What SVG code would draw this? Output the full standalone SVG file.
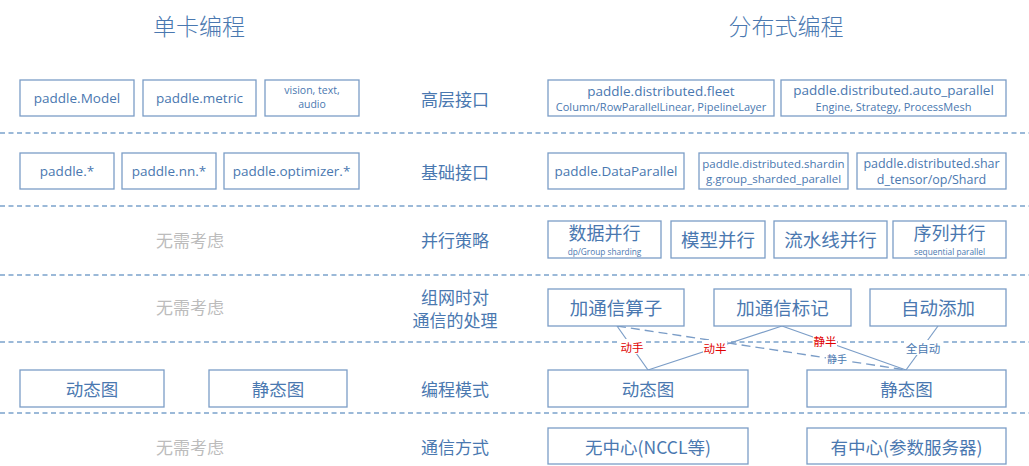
<svg xmlns="http://www.w3.org/2000/svg" width="1029" height="466" viewBox="0 0 1029 466">
<style>
text{font-family:"Open Sans","Noto Sans CJK SC",sans-serif;fill:#4a78b0;text-anchor:middle;dominant-baseline:central}
.cjk{font-family:"Noto Sans CJK SC",sans-serif}
.box{fill:#fff;stroke:#7b9dc7;stroke-width:1.3}
.sep{stroke:#7ba3cc;stroke-width:1.5;stroke-dasharray:5 3.5}
.gray{fill:#bcbcbc}
.red{fill:#e00000}
.con{stroke:#7b9dc7;stroke-width:1.2;fill:none}
.dash{stroke-dasharray:9 5;stroke-width:1.4}
</style>
<rect width="1029" height="466" fill="#fff"/>
<g id="separators">
<line class="sep" x1="0" y1="133" x2="1029" y2="133"/>
<line class="sep" x1="0" y1="206" x2="1029" y2="206"/>
<line class="sep" x1="0" y1="275" x2="1029" y2="275"/>
<line class="sep" x1="0" y1="342" x2="1029" y2="342"/>
<line class="sep" x1="0" y1="413" x2="1029" y2="413"/>
</g>
<g id="titles">
<text class="cjk" x="199" y="25" font-size="23" font-weight="300" fill="#5a8ac2">单卡编程</text>
<text class="cjk" x="786" y="25" font-size="23" font-weight="300" fill="#5a8ac2">分布式编程</text>
</g>
<g id="layer-labels" class="cjk" font-size="17">
<text class="cjk" x="455" y="98">高层接口</text>
<text class="cjk" x="455" y="171">基础接口</text>
<text class="cjk" x="455" y="239">并行策略</text>
<text class="cjk" x="455" y="296">组网时对</text>
<text class="cjk" x="455" y="319">通信的处理</text>
<text class="cjk" x="455" y="388">编程模式</text>
<text class="cjk" x="455" y="446">通信方式</text>
</g>
<g id="na-labels">
<text class="cjk gray" x="190" y="239" font-size="17">无需考虑</text>
<text class="cjk gray" x="190" y="306" font-size="17">无需考虑</text>
<text class="cjk gray" x="190" y="446" font-size="17">无需考虑</text>
</g>
<g id="connectors">
<line class="con" x1="617" y1="326" x2="648" y2="370"/>
<line class="con dash" x1="617" y1="326" x2="906" y2="370"/>
<line class="con" x1="782" y1="326" x2="648" y2="370"/>
<line class="con" x1="782" y1="326" x2="906" y2="370"/>
<line class="con" x1="938" y1="326" x2="906" y2="370"/>
<rect x="620" y="339" width="24" height="15" fill="#fff"/>
<text class="cjk red" x="632" y="347" font-size="11.5">动手</text>
<rect x="703" y="340" width="24" height="15" fill="#fff"/>
<text class="cjk red" x="715" y="348" font-size="11.5">动半</text>
<rect x="813" y="333" width="24" height="15" fill="#fff"/>
<text class="cjk red" x="825" y="341" font-size="11.5">静半</text>
<rect x="826" y="351" width="22" height="13" fill="#fff"/>
<text class="cjk" x="837" y="358" font-size="10" fill="#6a8ab0">静手</text>
<rect x="904" y="340" width="38" height="15" fill="#fff"/>
<text class="cjk" x="923" y="348" font-size="11.5">全自动</text>
</g>
<g id="paddle-model"><rect class="box" x="20" y="80" width="114" height="36"/><text x="77" y="98" font-size="13.5">paddle.Model</text></g>
<g id="paddle-metric"><rect class="box" x="143" y="80" width="113" height="36"/><text x="199.5" y="98" font-size="13.5">paddle.metric</text></g>
<g id="vision-text-audio"><rect class="box" x="265" y="80" width="94" height="36"/><text x="312" y="89.5" font-size="10.5">vision, text,</text><text x="312" y="104" font-size="10.5">audio</text></g>
<g id="fleet"><rect class="box" x="548" y="80" width="226" height="36"/><text x="661" y="90.5" font-size="13.5">paddle.distributed.fleet</text><text x="661" y="106" font-size="11">Column/RowParallelLinear, PipelineLayer</text></g>
<g id="auto-parallel"><rect class="box" x="781" y="80" width="225" height="36"/><text x="893.5" y="89.5" font-size="13.5">paddle.distributed.auto_parallel</text><text x="893.5" y="106" font-size="11">Engine, Strategy, ProcessMesh</text></g>
<g id="paddle-star"><rect class="box" x="20" y="153" width="94" height="36"/><text x="67" y="171" font-size="13.5">paddle.*</text></g>
<g id="paddle-nn"><rect class="box" x="122" y="153" width="94" height="36"/><text x="169" y="171" font-size="13.5">paddle.nn.*</text></g>
<g id="paddle-optimizer"><rect class="box" x="224" y="153" width="135" height="36"/><text x="291.5" y="171" font-size="13.5">paddle.optimizer.*</text></g>
<g id="data-parallel"><rect class="box" x="548" y="153" width="136" height="36"/><text x="616" y="171" font-size="13.5">paddle.DataParallel</text></g>
<g id="sharding"><rect class="box" x="699" y="153" width="149" height="36"/><text x="773.5" y="163.5" font-size="11.5">paddle.distributed.shardin</text><text x="773.5" y="178.5" font-size="11.5">g.group_sharded_parallel</text></g>
<g id="shard-tensor"><rect class="box" x="857" y="153" width="149" height="36"/><text x="931.5" y="163" font-size="12.5">paddle.distributed.shar</text><text x="931.5" y="179" font-size="12.5">d_tensor/op/Shard</text></g>
<g id="dp"><rect class="box" x="548" y="221" width="113" height="37"/><text class="cjk" x="604.5" y="232" font-size="18">数据并行</text><text x="604.5" y="251.5" font-size="8.3">dp/Group sharding</text></g>
<g id="mp"><rect class="box" x="671" y="221" width="94" height="37"/><text class="cjk" x="718" y="239" font-size="18.5">模型并行</text></g>
<g id="pp"><rect class="box" x="774" y="221" width="113" height="37"/><text class="cjk" x="830.5" y="239" font-size="18.5">流水线并行</text></g>
<g id="sp"><rect class="box" x="893" y="221" width="113" height="37"/><text class="cjk" x="949.5" y="232" font-size="18">序列并行</text><text x="949.5" y="251.5" font-size="8.3">sequential parallel</text></g>
<g id="add-comm-op"><rect class="box" x="548" y="289" width="136" height="37"/><text class="cjk" x="616" y="307" font-size="18.5">加通信算子</text></g>
<g id="add-comm-mark"><rect class="box" x="714" y="289" width="137" height="37"/><text class="cjk" x="782.5" y="307" font-size="18.5">加通信标记</text></g>
<g id="auto-add"><rect class="box" x="870" y="289" width="136" height="37"/><text class="cjk" x="938" y="307" font-size="18.5">自动添加</text></g>
<g id="dyn-left"><rect class="box" x="20" y="370" width="144" height="37"/><text class="cjk" x="92" y="388" font-size="17.5">动态图</text></g>
<g id="static-left"><rect class="box" x="209" y="370" width="138" height="37"/><text class="cjk" x="278" y="388" font-size="17.5">静态图</text></g>
<g id="dyn-right"><rect class="box" x="548" y="370" width="200" height="37"/><text class="cjk" x="648" y="388" font-size="17.5">动态图</text></g>
<g id="static-right"><rect class="box" x="807" y="370" width="199" height="37"/><text class="cjk" x="906.5" y="388" font-size="17.5">静态图</text></g>
<g id="nccl"><rect class="box" x="548" y="428" width="200" height="36"/><text class="cjk" x="648" y="446" font-size="17.5">无中心(NCCL等)</text></g>
<g id="ps"><rect class="box" x="807" y="428" width="199" height="36"/><text class="cjk" x="906.5" y="446" font-size="17.5">有中心(参数服务器)</text></g>
</svg>
